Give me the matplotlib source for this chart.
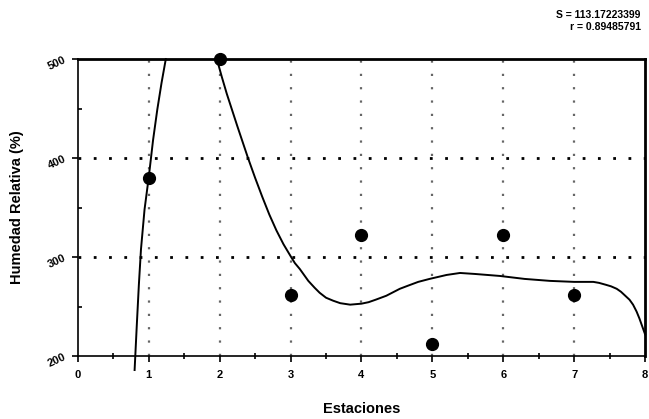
import numpy as np
import matplotlib
matplotlib.use("Agg")
import matplotlib.pyplot as plt

estaciones = [1, 2, 3, 4, 5, 6, 7]
humedad = [380, 500, 262, 322, 212, 322, 262]
x_ticks = [0, 1, 2, 3, 4, 5, 6, 7, 8]
y_ticks = [200, 300, 400, 500]
stats_text = ["S = 113.17223399", "r = 0.89485791"]

# fitted curve (two visible branches)
curve1_x = [0.80, 0.83, 0.86, 0.89, 0.94, 1.00, 1.06, 1.12, 1.18, 1.24]
curve1_y = [186, 230, 272, 308, 348, 381, 418, 449, 476, 500]
curve2_x = [1.96, 2.03, 2.10, 2.25, 2.40, 2.50, 2.60, 2.70, 2.80, 2.90, 3.00,
            3.06, 3.13, 3.25, 3.34, 3.41, 3.50, 3.60, 3.70, 3.84, 4.00, 4.10,
            4.20, 4.35, 4.54, 4.65, 4.80, 4.96, 5.20, 5.39, 5.60, 5.95, 6.30,
            6.66, 7.00, 7.27, 7.35, 7.45, 7.52, 7.60, 7.66, 7.72, 7.78, 7.83,
            7.88, 7.92, 7.96, 8.00]
curve2_y = [500, 482, 465, 432, 400, 380, 361, 343, 327, 313, 301,
            294, 288, 276, 269, 264, 259, 256, 253.5, 252, 253, 254.5,
            257, 261, 268, 271, 275, 278, 282, 284, 283, 281, 278,
            276, 275, 275, 274, 272, 270.5, 268, 265, 261, 257, 252,
            245, 238, 230, 222]

plt.rcParams['font.family'] = ['Liberation Sans', 'DejaVu Sans']

fig = plt.figure(figsize=(6.49, 4.19), dpi=100)
ax = fig.add_axes([0.120, 0.150, 0.874, 0.709])
ax.set_xlim(0, 8)
ax.set_ylim(200, 500)

ax.plot(curve1_x, curve1_y, color='black', lw=1.4, clip_on=False, zorder=3,
        solid_joinstyle='round')
ax.plot(curve2_x, curve2_y, color='black', lw=1.4, clip_on=False, zorder=3,
        solid_joinstyle='round')

ax.plot(estaciones, humedad, 'o', color='black', ms=8.5, zorder=4, clip_on=False)

# grid
for yv in [300, 400]:
    ax.axhline(yv, color='black', lw=2.0, ls=(0, (1, 4.5)), zorder=1)
for xv in range(1, 8):
    ax.axvline(xv, color='#666666', lw=1.6, ls=(0, (1, 5)), zorder=1)

ax.set_xticks(x_ticks)
ax.set_yticks(y_ticks)
ax.set_xticks(np.arange(0.5, 8, 1), minor=True)
ax.set_yticks([250, 350, 450], minor=True)
ax.tick_params(axis='both', which='major', direction='out', length=4, width=1.2, labelsize=8)
ax.tick_params(axis='x', which='major', pad=6)
ax.tick_params(axis='x', which='minor', direction='inout', length=4, width=1.2)
ax.tick_params(axis='y', which='minor', direction='in', length=3, width=1.2)
for lbl in ax.get_xticklabels():
    lbl.set_fontweight('bold')
for lbl in ax.get_yticklabels():
    lbl.set_fontweight('bold')
    lbl.set_rotation(25)

for s in ['top', 'right']:
    ax.spines[s].set_linewidth(2.0)
for s in ['left', 'bottom']:
    ax.spines[s].set_linewidth(1.2)

ax.set_xlabel('Estaciones', fontsize=10.5, fontweight='bold', labelpad=16)
ax.set_ylabel('Humedad Relativa (%)', fontsize=10.5, fontweight='bold', labelpad=16)

fig.text(0.987, 0.964, stats_text[0], ha='right', va='center', fontsize=7.5, fontweight='bold')
fig.text(0.987, 0.936, stats_text[1], ha='right', va='center', fontsize=7.5, fontweight='bold')

fig.savefig('out.png', dpi=100)
